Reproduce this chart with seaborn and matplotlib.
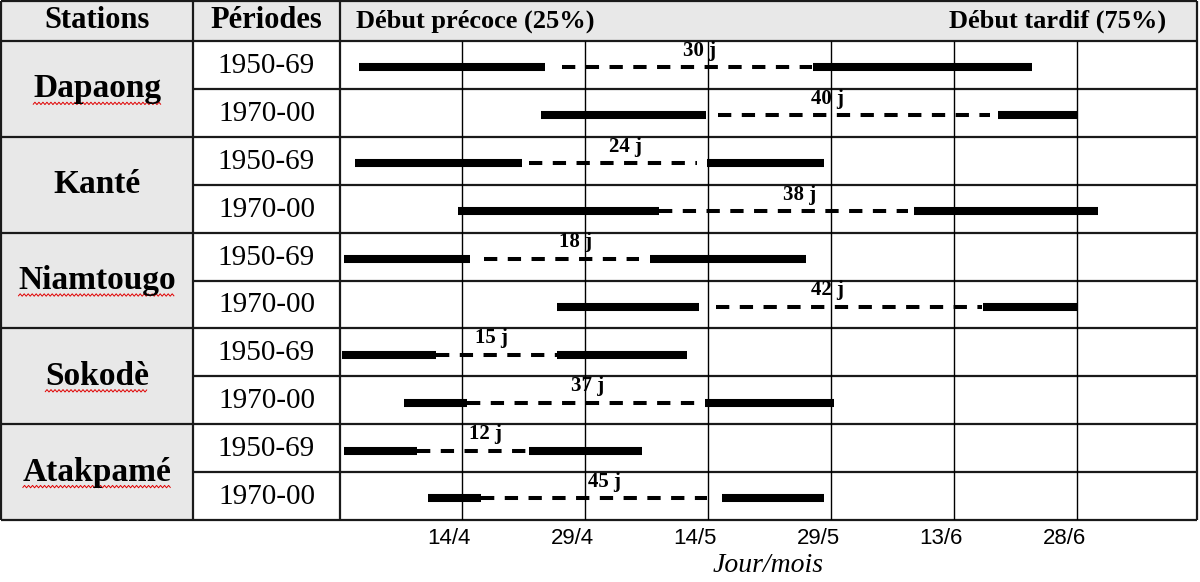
import numpy as np
import pandas as pd
import seaborn as sns
import matplotlib.pyplot as plt
from matplotlib.patches import Rectangle
from matplotlib.transforms import ScaledTranslation

stations = ['Dapaong', 'Kanté', 'Niamtougo', 'Sokodè', 'Atakpamé']
periods = ['1950-69', '1970-00']
spell_mark = [True, False, True, True, True]

# dates as day of year (non-leap), one value per station/period row
early_start = [91.4, 113.6, 90.9, 103.5, 89.6, 115.6, 89.3, 96.9, 89.6, 99.8]
early_end   = [114.1, 133.7, 111.3, 128.0, 105.0, 132.9, 100.8, 104.6, 98.5, 106.3]
dash_start  = [116.2, 135.2, 112.1, 128.0, 106.7, 134.9, 100.8, 104.6, 98.5, 106.3]
dash_end    = [146.7, 168.4, 132.6, 158.4, 125.6, 167.4, 115.6, 133.5, 112.1, 133.9]
late_start  = [146.8, 169.3, 133.9, 159.1, 126.9, 167.5, 115.6, 133.6, 112.1, 135.7]
late_end    = [173.5, 179.0, 148.1, 181.5, 145.9, 179.0, 131.4, 149.3, 125.9, 148.1]
gap_days    = [30, 40, 24, 38, 18, 42, 15, 37, 12, 45]
label_day   = [133.0, 148.5, 123.9, 145.1, 117.8, 148.6, 107.6, 119.3, 106.8, 121.4]

tick_days = [104, 119, 134, 149, 164, 179]
tick_labels = ['14/4', '29/4', '14/5', '29/5', '13/6', '28/6']

sns.set_theme(style='white')
plt.rcParams['font.family'] = ['Liberation Serif', 'DejaVu Serif']
plt.rcParams['text.color'] = 'black'
plt.rcParams['axes.labelcolor'] = 'black'
plt.rcParams['xtick.color'] = 'black'
plt.rcParams['lines.solid_capstyle'] = 'butt'
plt.rcParams['lines.dash_capstyle'] = 'butt'

W, H = 1200, 582
fig = plt.figure(figsize=(12, 5.82), dpi=100)
bg = fig.add_axes([0, 0, 1, 1])
bg.set_xlim(0, W)
bg.set_ylim(H, 0)
bg.axis('off')

# table frame in pixels
x0, x1, x2, x3 = 1, 193, 340, 1197
y0, yh, row_h = 1, 41, 47.9
n = len(stations) * len(periods)
yb = yh + n * row_h

gray = '#e8e8e8'
lc = '#1a1a1a'
bg.add_patch(Rectangle((x0, y0), x3 - x0, yh - y0, color=gray, lw=0))
bg.add_patch(Rectangle((x0, yh), x1 - x0, yb - yh, color=gray, lw=0))

bg.plot([x0, x3], [y0, y0], color=lc, lw=1.6)
for k in range(n + 1):
    y = yh + k * row_h
    left = x0 if k % 2 == 0 else x1
    bg.plot([left, x3], [y, y], color=lc, lw=1.6)
for x in (x0, x1, x2, x3):
    bg.plot([x, x], [y0, yb], color=lc, lw=1.6)

bg.text((x0 + x1) / 2, (y0 + yh) / 2, 'Stations', ha='center', va='center',
        fontsize=22, fontweight='bold')
bg.text((x1 + x2) / 2, (y0 + yh) / 2, 'Périodes', ha='center', va='center',
        fontsize=22, fontweight='bold')
bg.text(356, (y0 + yh) / 2, 'Début précoce (25%)', ha='left', va='center',
        fontsize=19, fontweight='bold')
bg.text(1166, (y0 + yh) / 2, 'Début tardif (75%)', ha='right', va='center',
        fontsize=19, fontweight='bold')

for i in range(n):
    bg.text((x1 + x2) / 2, yh + (i + 0.5) * row_h + 1, periods[i % 2],
            ha='center', va='center', fontsize=21)

name_texts = []
for j, name in enumerate(stations):
    t = bg.text((x0 + x1) / 2, yh + (2 * j + 1) * row_h, name, ha='center',
                va='center', fontsize=24, fontweight='bold')
    name_texts.append(t)

# chart part
ax = fig.add_axes([x2 / W, 1 - yb / H, (x3 - x2) / W, (yb - yh) / H])
ax.patch.set_visible(False)

recs = []
for i in range(n):
    y = i + 0.55
    segs = [('solid', early_start[i], early_end[i]),
            ('dash', dash_start[i], dash_end[i]),
            ('solid', late_start[i], late_end[i])]
    for s, (kind, a, b) in enumerate(segs):
        recs.append(dict(seg=f'{i}-{s}', kind=kind, day=a, row=y))
        recs.append(dict(seg=f'{i}-{s}', kind=kind, day=b, row=y))
df = pd.DataFrame(recs)

sns.lineplot(data=df, x='day', y='row', units='seg', estimator=None, sort=False,
             style='kind', dashes={'solid': '', 'dash': (3.3, 2.6)},
             size='kind', sizes={'solid': 5.8, 'dash': 2.9},
             color='black', legend=False, ax=ax)

for i in range(n):
    ax.text(label_day[i], i + 0.55 - 0.24, f'{gap_days[i]} j', ha='center',
            va='baseline', fontsize=15, fontweight='bold')

ax.set_xlim(89.1, 193.6)
ax.set_ylim(n, 0)
ax.set_yticks([])
ax.set_ylabel('')
ax.set_xticks(tick_days, tick_labels)
ax.grid(True, axis='x', color='black', lw=1)
ax.tick_params(axis='x', length=0, pad=6, labelsize=16)
for lbl in ax.get_xticklabels():
    lbl.set_fontfamily('Liberation Sans')
    lbl.set_transform(lbl.get_transform() + ScaledTranslation(-0.13, 0, fig.dpi_scale_trans))
for s in ax.spines.values():
    s.set_visible(False)
ax.set_xlabel('Jour/mois', fontsize=20, style='italic', labelpad=3)

# spell-check squiggles under the station names
fig.canvas.draw()
renderer = fig.canvas.get_renderer()
inv = bg.transData.inverted()
for t, mark in zip(name_texts, spell_mark):
    if not mark:
        continue
    bb = t.get_window_extent(renderer)
    xa, ya = inv.transform((bb.x0, bb.y0))
    xb, _ = inv.transform((bb.x1, bb.y0))
    xs = np.arange(xa, xb, 2.0)
    ys = ya - 1 + 1.2 * (-1.0) ** np.arange(len(xs))
    bg.plot(xs, ys, color='#e00000', lw=0.7)

fig.savefig('out.png', dpi=100)
